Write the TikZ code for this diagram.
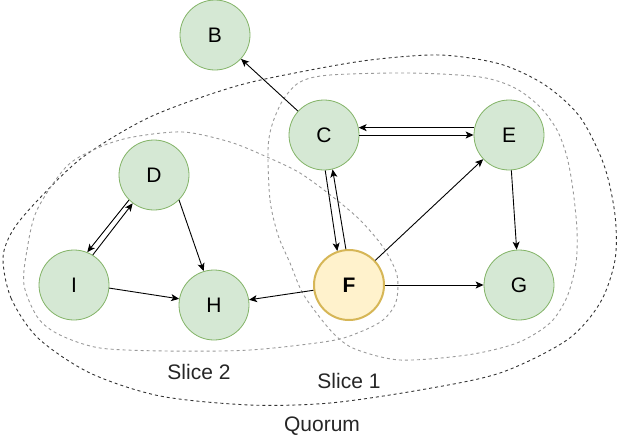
\documentclass[tikz,border=0pt]{standalone}
\usepackage{fontspec}
\setmainfont{Liberation Sans}
\usetikzlibrary{arrows.meta}
\definecolor{nodefill}{HTML}{D5E8D4}
\definecolor{nodeline}{HTML}{82B366}
\definecolor{keyfill}{HTML}{FFF2CC}
\definecolor{keyline}{HTML}{D6B656}
\definecolor{quorumline}{HTML}{333333}
\definecolor{sliceline}{HTML}{999999}
\tikzset{
  peer/.style={circle, minimum size=70pt, inner sep=0pt, fill=nodefill,
    draw=nodeline, line width=0.8pt, font=\fontsize{21}{24}\selectfont},
  keypeer/.style={peer, fill=keyfill, draw=keyline, line width=2pt,
    font=\fontsize{21}{24}\selectfont\bfseries},
  link/.style={draw=black, line width=0.9pt,
    -{Stealth[length=8pt,width=7pt,inset=2pt]}},
  quorumshape/.style={draw=quorumline, line width=0.9pt, dash pattern=on 3pt off 3pt},
  sliceshape/.style={draw=sliceline, line width=0.9pt, dash pattern=on 3pt off 3pt},
  caption/.style={font=\fontsize{21}{24}\selectfont, text=black!85}
}
\begin{document}
\begin{tikzpicture}[x=1pt,y=-1pt]
\useasboundingbox (0,0) rectangle (618,437);

% quorum boundary
\draw[quorumshape] plot[smooth cycle] coordinates {
  (3,258) (11,298) (38,338) (90,373) (160,396) (250,405) (330,403)
  (420,390) (500,373) (567,340) (600,303) (615,260) (615,215) (604,165)
  (580,117) (545,85) (500,64) (440,55) (370,60) (300,72) (233,87)
  (150,117) (83,157) (38,200) (13,230)};

% slice 1 boundary
\draw[sliceshape] plot[smooth cycle] coordinates {
  (268,150) (270,200) (278,235) (290,263) (302,292) (318,315) (335,335)
  (355,349) (400,360) (467,355) (517,343) (550,323) (567,297) (576,263)
  (577,230) (573,190) (567,157) (557,130) (540,107) (515,88) (480,77)
  (410,73) (330,75) (300,82) (283,100) (272,125)};

% slice 2 boundary
\draw[sliceshape] plot[smooth cycle] coordinates {
  (24,285) (27,250) (37,210) (67,166) (100,147) (133,137) (183,132)
  (230,142) (267,157) (300,173) (333,197) (360,220) (383,247) (397,275)
  (396,302) (383,320) (360,332) (330,341) (250,350) (167,351) (100,348)
  (60,335) (38,318)};

% peers
\node[peer] (B) at (215,35) {B};
\node[peer] (C) at (324,135) {C};
\node[peer] (E) at (509,135) {E};
\node[peer] (D) at (154,175) {D};
\node[peer] (I) at (74,285) {I};
\node[peer] (H) at (214,305) {H};
\node[keypeer] (F) at (349,285) {F};
\node[peer] (G) at (519,285) {G};

% captions
\node[caption] (s2) at (199,372) {Slice 2};
\node[caption] (s1) at (349,381) {Slice 1};
\node[caption] (q) at (322,426) {Quorum};

% links
\draw[link] (C) -- (B);
\draw[link] (C) -- (E);
\draw[link] (E.168) -- (C.12);
\draw[link] (C.-88) -- (F.109);
\draw[link] (F.95) -- (C.-76);
\draw[link] (F) -- (E);
\draw[link] (E) -- (G);
\draw[link] (F) -- (G);
\draw[link] (F) -- (H);
\draw[link] (I.-5) -- (H.170);
\draw[link] (D.-45) -- (H.107);
\draw[link] (D.225) -- (I.68);
\draw[link] (I.58) -- (D.233);
\end{tikzpicture}
\end{document}
